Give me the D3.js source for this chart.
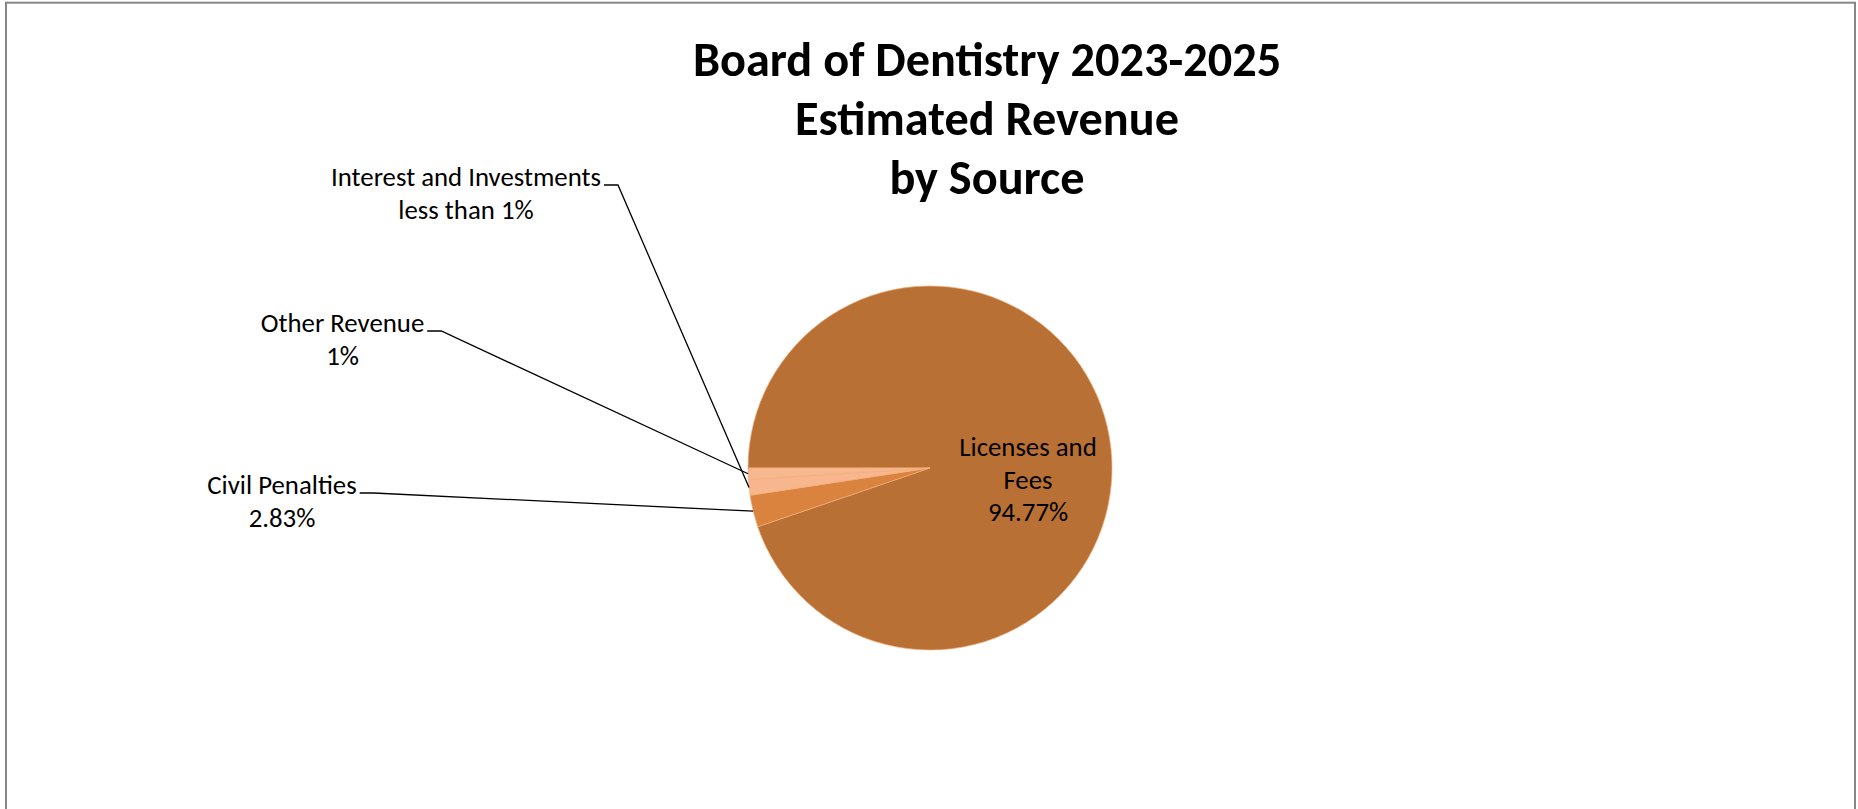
<!DOCTYPE html>
<html>
<head>
<meta charset="utf-8">
<script src="https://cdn.jsdelivr.net/npm/d3@7"></script>
<style>
  html, body { margin: 0; padding: 0; background: #fff; }
  svg { display: block; }
  text { font-family: Carlito, Calibri, Lato, sans-serif; fill: #000; }
</style>
</head>
<body>
<svg id="chart" width="1858" height="809"></svg>
<script>
// Revenue sources, in drawing order (clockwise from 9 o'clock)
const categories = ["Licenses and Fees", "Civil Penalties", "Interest and Investments", "Other Revenue"];
// Share of estimated revenue, percent
const shares = [94.77, 2.83, 1.40, 1.00];
const sliceColors = ["#B87034", "#D9833F", "#F7B68E", "#F7B78F"];
const titleLines = ["Board of Dentistry 2023-2025", "Estimated Revenue", "by Source"];

// Label text for each slice: name lines followed by the value line
const pct2 = v => d3.format(".2f")(v) + "%";
const pct0 = v => d3.format(".0f")(v) + "%";
const labelNames = [["Licenses and", "Fees"], ["Civil Penalties"], ["Interest and Investments"], ["Other Revenue"]];
const labelValues = [pct2(shares[0]), pct2(shares[1]), "less than 1%", pct0(shares[3])];

// ---- layout ----
const W = 1858, H = 809;
const cx = 930, cy = 468, R = 182;
const titleX = 987, titleTop = 76, titleStep = 59;
const labelSize = 26.8, labelStep = 32.5, tickLen = 14;
// Label placement relative to the pie centre (first-line baseline, centred block)
const labelPos = [
  { dx: 98, dy: -12, inside: true },
  { dx: -648, dy: 26 },
  { dx: -464, dy: -282 },
  { dx: -587.5, dy: -136 }
];

const svg = d3.select("#chart");

// Chart frame
svg.append("rect")
  .attr("x", 6).attr("y", 2.7)
  .attr("width", 1849).attr("height", 900)
  .attr("fill", "#fff")
  .attr("stroke", "#878787")
  .attr("stroke-width", 2);

// Title
svg.append("text")
  .attr("text-anchor", "middle")
  .attr("font-weight", "bold")
  .attr("font-size", 48.3)
  .selectAll("tspan")
  .data(titleLines)
  .join("tspan")
  .attr("x", titleX)
  .attr("y", (d, i) => titleTop + i * titleStep)
  .text(d => d);

// Pie
const pie = d3.pie().sort(null).value(d => d)
  .startAngle(-Math.PI / 2).endAngle(Math.PI * 1.5);
const arcs = pie(shares);
const arc = d3.arc().innerRadius(0).outerRadius(R);
const rim = d3.arc().innerRadius(R).outerRadius(R);

const g = svg.append("g").attr("transform", `translate(${cx},${cy})`);
g.selectAll("path.slice")
  .data(arcs)
  .join("path")
  .attr("class", "slice")
  .attr("d", arc)
  .attr("fill", (d, i) => sliceColors[i])
  .attr("stroke", "#F3AC78")
  .attr("stroke-width", 0.7);

// Labels
const labels = g.selectAll("g.label")
  .data(arcs)
  .join("g")
  .attr("class", "label");

labels.each(function (d, i) {
  const sel = d3.select(this);
  const pos = labelPos[i];
  const lines = labelNames[i].concat([labelValues[i]]);
  const t = sel.append("text")
    .attr("text-anchor", "middle")
    .attr("font-size", labelSize);
  t.selectAll("tspan")
    .data(lines)
    .join("tspan")
    .attr("x", pos.dx)
    .attr("y", (l, k) => pos.dy + k * labelStep)
    .text(l => l);
  if (pos.inside) return;
  // leader: short horizontal stub after the first line, then to the slice's rim midpoint
  const firstW = t.select("tspan").node().getComputedTextLength();
  const x0 = pos.dx + firstW / 2 + 3;
  const y0 = pos.dy - 1;
  const [ex, ey] = rim.centroid(d);
  sel.append("path")
    .attr("d", d3.line()([[x0, y0], [x0 + tickLen, y0], [ex, ey]]))
    .attr("fill", "none")
    .attr("stroke", "#000")
    .attr("stroke-width", 1.3);
});
</script>
</body>
</html>
